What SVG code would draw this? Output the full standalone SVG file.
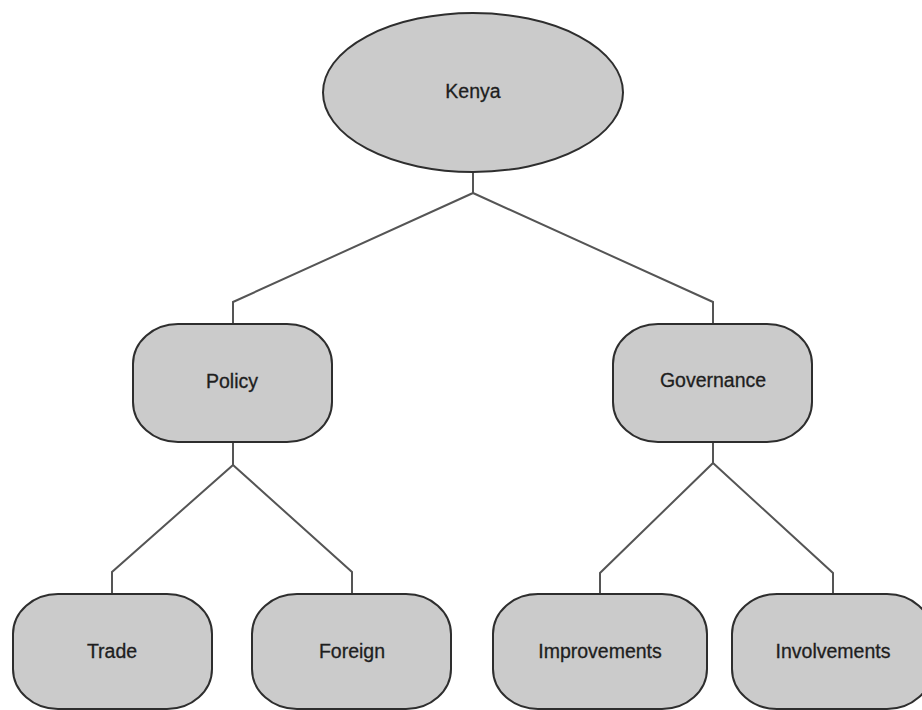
<svg xmlns="http://www.w3.org/2000/svg" width="922" height="710" viewBox="0 0 922 710">
<style>
.node{fill:#cbcbcb;stroke:#2e2e2e;stroke-width:2}
.lbl{font-family:"Liberation Sans",Arial,sans-serif;font-size:19.5px;fill:#1e1e1e;text-anchor:middle;stroke:#1e1e1e;stroke-width:0.3}
.conn{fill:none;stroke:#555;stroke-width:2}
</style>
<rect width="922" height="710" fill="#fff"/>
<g id="connectors">
<polyline class="conn" points="473,172 473,193 233,302 233,324"/>
<polyline class="conn" points="473,193 713,302 713,324"/>
<polyline class="conn" points="233,442 233,465 112,572 112,594"/>
<polyline class="conn" points="233,465 352,572 352,594"/>
<polyline class="conn" points="713,442 713,463 600,573 600,594"/>
<polyline class="conn" points="713,463 833,573 833,594"/>
</g>
<g id="kenya">
<ellipse class="node" cx="473" cy="92.5" rx="150" ry="79.5"/>
<text class="lbl" x="473" y="98">Kenya</text>
</g>
<g id="policy">
<rect class="node" x="133" y="324" width="199" height="118" rx="45" ry="40"/>
<text class="lbl" x="232" y="388">Policy</text>
</g>
<g id="governance">
<rect class="node" x="613" y="324" width="199" height="118" rx="45" ry="40"/>
<text class="lbl" x="713" y="387">Governance</text>
</g>
<g id="trade">
<rect class="node" x="13" y="594" width="199" height="115" rx="45" ry="40"/>
<text class="lbl" x="112" y="658">Trade</text>
</g>
<g id="foreign">
<rect class="node" x="252" y="594" width="199" height="115" rx="45" ry="40"/>
<text class="lbl" x="352" y="658">Foreign</text>
</g>
<g id="improvements">
<rect class="node" x="493" y="594" width="214" height="115" rx="45" ry="40"/>
<text class="lbl" x="600" y="658">Improvements</text>
</g>
<g id="involvements">
<rect class="node" x="732" y="594" width="200" height="115" rx="45" ry="40"/>
<text class="lbl" x="833" y="658">Involvements</text>
</g>
</svg>
